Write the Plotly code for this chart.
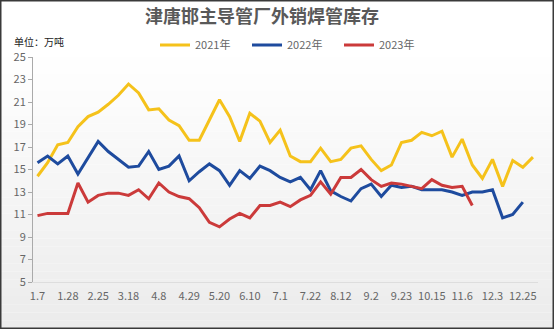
import plotly.graph_objects as go

# Weekly dates (category axis) and inventory series, unit: 万吨
dates = ["1.7", "1.14", "1.21", "1.28", "2.11", "2.18", "2.25", "3.4", "3.11", "3.18",
         "3.25", "4.1", "4.8", "4.15", "4.22", "4.29", "5.6", "5.13", "5.20", "5.27",
         "6.3", "6.10", "6.17", "6.24", "7.1", "7.8", "7.15", "7.22", "7.29", "8.5",
         "8.12", "8.19", "8.26", "9.2", "9.9", "9.16", "9.23", "10.1", "10.8", "10.15",
         "10.22", "10.29", "11.6", "11.13", "11.20", "12.3", "12.10", "12.17", "12.25", "12.31"]

stock_2021 = [14.4, 15.6, 17.2, 17.4, 18.8, 19.7, 20.1, 20.8, 21.6, 22.6,
              21.8, 20.3, 20.4, 19.4, 18.9, 17.6, 17.6, 19.4, 21.2, 19.7,
              17.5, 20.0, 19.3, 17.4, 18.5, 16.2, 15.7, 15.7, 16.9, 15.7,
              15.9, 16.9, 17.1, 15.9, 14.9, 15.4, 17.4, 17.6, 18.3, 18.0,
              18.4, 16.1, 17.7, 15.4, 14.2, 15.9, 13.5, 15.8, 15.2, 16.1]

stock_2022 = [15.6, 16.2, 15.5, 16.2, 14.6, 16.0, 17.5, 16.6, 15.9, 15.2,
              15.3, 16.6, 15.0, 15.3, 16.2, 14.0, 14.8, 15.5, 14.9, 13.6,
              14.9, 14.2, 15.3, 14.9, 14.3, 13.9, 14.3, 13.2, 14.9, 13.1,
              12.6, 12.2, 13.3, 13.7, 12.6, 13.6, 13.4, 13.5, 13.2, 13.2,
              13.2, 13.0, 12.7, 13.0, 13.0, 13.2, 10.7, 11.0, 12.1]

stock_2023 = [10.9, 11.1, 11.1, 11.1, 13.8, 12.1, 12.7, 12.9, 12.9, 12.7,
              13.2, 12.4, 13.8, 13.0, 12.6, 12.4, 11.6, 10.3, 9.9, 10.6,
              11.1, 10.7, 11.8, 11.8, 12.1, 11.7, 12.3, 12.7, 13.9, 12.8,
              14.3, 14.3, 15.0, 14.1, 13.5, 13.8, 13.7, 13.5, 13.3, 14.1,
              13.6, 13.4, 13.5, 11.8]

series = [("2021年", stock_2021, "#F5C21B"),
          ("2022年", stock_2022, "#1E4B9E"),
          ("2023年", stock_2023, "#CB3A3A")]

y_ticks = list(range(5, 26, 2))
x_ticks = dates[::3]

FONT = "Noto Sans CJK SC, Noto Sans, sans-serif"
W, H = 554, 329
ML, MR, MT, MB = 33, 16, 57, 47
PW = W - ML - MR
PH = H - MT - MB


def px(x):
    return (x - ML) / PW


def py(y):
    return (H - MB - y) / PH


fig = go.Figure()
for name, vals, color in series:
    fig.add_trace(go.Scatter(
        x=dates[:len(vals)], y=vals, name=name, mode="lines",
        line=dict(color=color, width=3),
    ))

# soft vertical background gradient
shapes = []
bands = 40
for k in range(bands):
    y0 = H * k / bands
    y1 = H * (k + 1) / bands
    t = max(0.0, (y0 - 50) / (H - 50))
    g = int(round(255 - 20 * t))
    shapes.append(dict(type="rect", xref="paper", yref="paper",
                       x0=px(0), x1=px(W), y0=py(y1), y1=py(y0),
                       fillcolor=f"rgb({g},{g},{g})", line=dict(width=0),
                       layer="below"))
# outer frame
shapes.append(dict(type="rect", xref="paper", yref="paper",
                   x0=px(0.75), x1=px(W - 0.75), y0=py(H - 0.75), y1=py(0.75),
                   line=dict(color="#3a3a3a", width=1.5), layer="above"))

fig.update_layout(
    width=W, height=H,
    margin=dict(l=ML, r=MR, t=MT, b=MB),
    paper_bgcolor="white",
    plot_bgcolor="rgba(0,0,0,0)",
    font=dict(family=FONT, color="#666666", size=11),
    shapes=shapes,
    showlegend=True,
    legend=dict(orientation="h", x=px(155), xanchor="left",
                y=py(45), yanchor="middle",
                font=dict(size=11, color="#666666"),
                entrywidth=47, entrywidthmode="pixels",
                bgcolor="rgba(0,0,0,0)"),
    annotations=[
        dict(text="<b>津唐邯主导管厂外销焊管库存</b>", xref="paper", yref="paper",
             x=px(262), y=py(15), xanchor="center", yanchor="middle",
             showarrow=False, font=dict(size=18, color="#595959", family=FONT)),
        dict(text="单位：万吨", xref="paper", yref="paper",
             x=px(12), y=py(41), xanchor="left", yanchor="middle",
             showarrow=False, font=dict(size=10, color="#222222", family=FONT)),
    ],
    xaxis=dict(
        type="category", categoryorder="array", categoryarray=dates,
        range=[-0.445, 49.5],
        tickmode="array", tickvals=x_ticks, ticktext=x_ticks,
        showgrid=False, zeroline=False,
        showline=True, linecolor="#dddddd", linewidth=1,
        ticks="outside", ticklen=4, tickcolor="rgba(0,0,0,0)",
        tickfont=dict(size=11, color="#666666"),
    ),
    yaxis=dict(
        range=[5, 25], tickmode="array", tickvals=y_ticks,
        showgrid=False, zeroline=False,
        showline=True, linecolor="#aaaaaa", linewidth=1,
        ticks="outside", ticklen=4, tickcolor="#aaaaaa",
        tickfont=dict(size=11, color="#666666"),
    ),
)

fig.write_html("out.html")
